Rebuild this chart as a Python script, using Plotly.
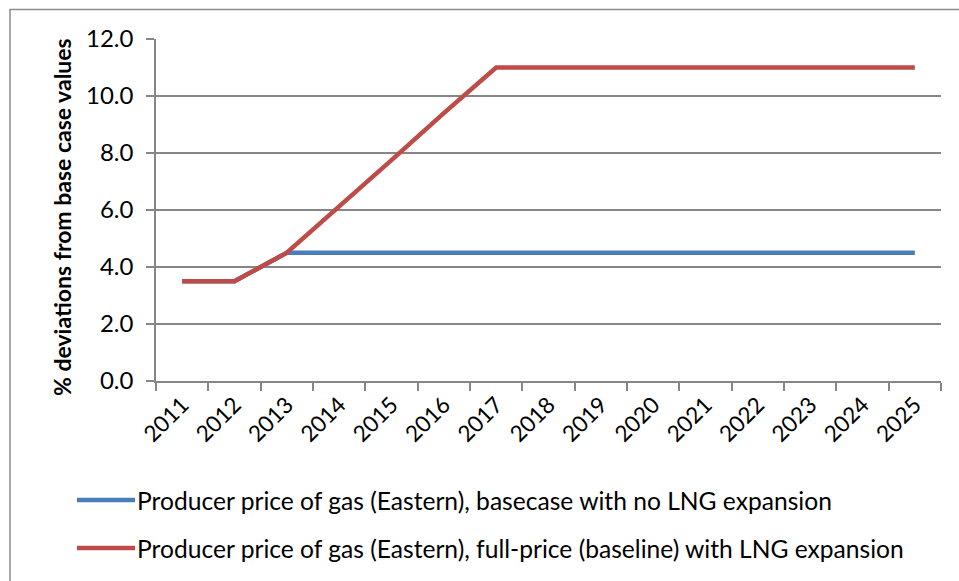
import plotly.graph_objects as go

# Years on the category axis
years = ["2011", "2012", "2013", "2014", "2015", "2016", "2017", "2018",
         "2019", "2020", "2021", "2022", "2023", "2024", "2025"]

# % deviations from base case values
basecase_no_lng = [3.5, 3.5, 4.5, 4.5, 4.5, 4.5, 4.5, 4.5,
                   4.5, 4.5, 4.5, 4.5, 4.5, 4.5, 4.5]
fullprice_lng = [3.5, 3.5, 4.5, 6.1, 7.75, 9.4, 11.0, 11.0,
                 11.0, 11.0, 11.0, 11.0, 11.0, 11.0, 11.0]

series_names = [
    "Producer price of gas (Eastern), basecase with no LNG expansion",
    "Producer price of gas (Eastern), full-price (baseline) with LNG expansion",
]
y_title = "% deviations from base case values"
y_ticks = [0, 2, 4, 6, 8, 10, 12]
y_ticktext = ["0.0", "2.0", "4.0", "6.0", "8.0", "10.0", "12.0"]

BLUE = "#4A7EBB"
RED = "#BE4B48"
GRID = "#868686"
FONT = "Lato"

W, H = 959, 581
L, R, T, B = 156, 18, 39, 200
PW, PH = W - L - R, H - T - B


def px(x):
    return (x - L) / PW


def py(y):
    return (H - B - y) / PH


fig = go.Figure()
fig.add_trace(go.Scatter(x=years, y=basecase_no_lng, mode="lines",
                         name=series_names[0],
                         line=dict(color=BLUE, width=4.5)))
fig.add_trace(go.Scatter(x=years, y=fullprice_lng, mode="lines",
                         name=series_names[1],
                         line=dict(color=RED, width=4.5)))

shapes = [
    # chart border
    dict(type="rect", xref="paper", yref="paper",
         x0=px(10), x1=px(990), y0=py(9.5), y1=py(620),
         line=dict(color="#8C8C8C", width=1.5), layer="below"),
]
annotations = [
    # vertical axis title
    dict(xref="paper", yref="paper", x=px(62), y=py(217),
         text="<b>" + y_title + "</b>", textangle=-90, showarrow=False,
         xanchor="center", yanchor="middle",
         font=dict(family=FONT, size=23, color="#000")),
]
# legend entries beneath the plot
for i, (name, col) in enumerate(zip(series_names, [BLUE, RED])):
    yy = 500 + 48 * i
    shapes.append(dict(type="line", xref="paper", yref="paper",
                       x0=px(77), x1=px(135), y0=py(yy), y1=py(yy),
                       line=dict(color=col, width=4.5)))
    annotations.append(dict(xref="paper", yref="paper", x=px(135), y=py(yy),
                            text=name, showarrow=False, xanchor="left",
                            yanchor="middle",
                            font=dict(family=FONT, size=24.6, color="#000")))

fig.update_layout(
    width=W, height=H,
    margin=dict(l=L, r=R, t=T, b=B),
    paper_bgcolor="white", plot_bgcolor="white",
    showlegend=False,
    shapes=shapes,
    annotations=annotations,
    font=dict(family=FONT, color="#000"),
)
fig.update_xaxes(
    type="category", range=[-0.5, 14.5],
    showline=True, linecolor=GRID, linewidth=1.5,
    ticks="outside", tickson="boundaries", ticklen=8, tickcolor=GRID,
    tickwidth=1.5, tickangle=-45, showgrid=False,
    tickfont=dict(family=FONT, size=22.5, color="#000"),
)
fig.update_yaxes(
    range=[0, 12], tickvals=y_ticks, ticktext=y_ticktext,
    showline=True, linecolor=GRID, linewidth=1.5,
    ticks="outside", ticklen=8, tickcolor=GRID, tickwidth=1.5,
    showgrid=True, gridcolor=GRID, gridwidth=1.5, zeroline=False,
    tickfont=dict(family=FONT, size=24, color="#000"),
    ticklabelstandoff=8,
)

fig.write_html("out.html")
